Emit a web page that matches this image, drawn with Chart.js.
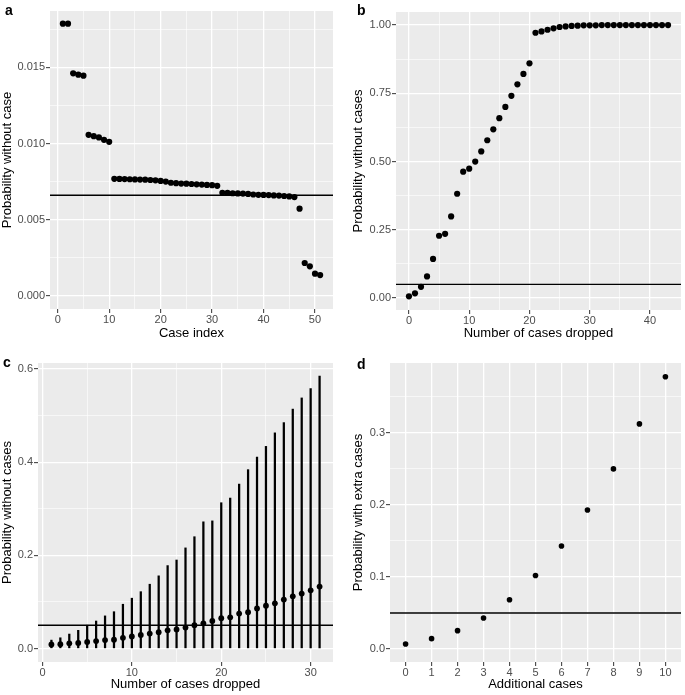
<!DOCTYPE html>
<html>
<head>
<meta charset="utf-8">
<script src="https://cdn.jsdelivr.net/npm/chart.js@4.4.1/dist/chart.umd.min.js"></script>
<style>
  body { margin: 0; background: #fff; width: 685px; height: 695px; position: relative; overflow: hidden; }
  canvas { position: absolute; }
</style>
</head>
<body>
<canvas id="panel-a" width="342" height="345" style="left:0;top:0;width:342px;height:345px"></canvas>
<canvas id="panel-b" width="343" height="345" style="left:342px;top:0;width:343px;height:345px"></canvas>
<canvas id="panel-c" width="342" height="350" style="left:0;top:345px;width:342px;height:350px"></canvas>
<canvas id="panel-d" width="343" height="350" style="left:342px;top:345px;width:343px;height:350px"></canvas>
<script>
// Panel a: probability without each single case
const caseIndex = [1, 2, 3, 4, 5, 6, 7, 8, 9, 10, 11, 12, 13, 14, 15, 16, 17, 18, 19, 20,
  21, 22, 23, 24, 25, 26, 27, 28, 29, 30, 31, 32, 33, 34, 35, 36, 37, 38, 39, 40,
  41, 42, 43, 44, 45, 46, 47, 48, 49, 50, 51];
const probWithoutCase = [
  0.01787, 0.01787, 0.01461, 0.01452, 0.01445, 0.01057, 0.01048, 0.01040, 0.01024, 0.01011,
  0.00768, 0.00767, 0.00766, 0.00765, 0.00764, 0.00763, 0.00762, 0.00760, 0.00758, 0.00754,
  0.00750, 0.00742, 0.00739, 0.00737, 0.00736, 0.00734, 0.00732, 0.00730, 0.00728, 0.00726,
  0.00722, 0.00676, 0.00675, 0.00673, 0.00672, 0.00671, 0.00669, 0.00665, 0.00663, 0.00662,
  0.00661, 0.00659, 0.00658, 0.00655, 0.00652, 0.00648, 0.00572, 0.00215, 0.00193, 0.00145,
  0.00136];
const thresholdA = 0.0066;

// Panel b: probability after dropping the strongest cases
const casesDroppedB = [0, 1, 2, 3, 4, 5, 6, 7, 8, 9, 10, 11, 12, 13, 14, 15, 16, 17, 18, 19,
  20, 21, 22, 23, 24, 25, 26, 27, 28, 29, 30, 31, 32, 33, 34, 35, 36, 37, 38, 39,
  40, 41, 42, 43];
const probWithoutCasesB = [
  0.006, 0.017, 0.041, 0.079, 0.143, 0.228, 0.235, 0.299, 0.382, 0.463,
  0.474, 0.500, 0.537, 0.578, 0.618, 0.659, 0.700, 0.741, 0.783, 0.821,
  0.860, 0.972, 0.977, 0.983, 0.988, 0.993, 0.995, 0.997, 0.998, 0.999,
  0.999, 0.999, 1.000, 1.000, 1.000, 1.000, 1.000, 1.000, 1.000, 1.000,
  1.000, 1.000, 1.000, 1.000];
const thresholdB = 0.05;

// Panel c: random drops, median with range
const casesDroppedC = [1, 2, 3, 4, 5, 6, 7, 8, 9, 10, 11, 12, 13, 14, 15, 16, 17, 18, 19, 20,
  21, 22, 23, 24, 25, 26, 27, 28, 29, 30, 31];
const probMedianC = [
  0.0086, 0.0093, 0.011, 0.012, 0.014, 0.016, 0.018, 0.019, 0.023, 0.026,
  0.029, 0.032, 0.035, 0.039, 0.041, 0.045, 0.050, 0.054, 0.059, 0.065,
  0.067, 0.075, 0.078, 0.086, 0.092, 0.097, 0.105, 0.112, 0.118, 0.125,
  0.133];
const probUpperC = [
  0.018, 0.023, 0.031, 0.039, 0.050, 0.059, 0.070, 0.079, 0.095, 0.108,
  0.122, 0.138, 0.156, 0.178, 0.190, 0.216, 0.240, 0.272, 0.274, 0.313,
  0.323, 0.353, 0.384, 0.411, 0.434, 0.463, 0.485, 0.514, 0.538, 0.558,
  0.585];
const probLowerC = [
  0, 0, 0, 0, 0, 0, 0, 0, 0, 0, 0, 0, 0, 0, 0, 0, 0, 0, 0, 0,
  0, 0, 0, 0, 0, 0, 0, 0, 0, 0, 0];
const thresholdC = 0.05;

// Panel d: probability with extra cases
const additionalCases = [0, 1, 2, 3, 4, 5, 6, 7, 8, 9, 10];
const probExtraCases = [0.0069, 0.0144, 0.0255, 0.043, 0.0685, 0.102, 0.143, 0.193, 0.250, 0.3125, 0.378];
const thresholdD = 0.05;

// tick positions (major labelled, minor only as thin grid lines)
const ticksAX = [0, 10, 20, 30, 40, 50], minorAX = [5, 15, 25, 35, 45];
const ticksAY = [0, 0.005, 0.01, 0.015], minorAY = [0.0025, 0.0075, 0.0125, 0.0175];
const ticksBX = [0, 10, 20, 30, 40], minorBX = [5, 15, 25, 35];
const ticksBY = [0, 0.25, 0.5, 0.75, 1], minorBY = [0.125, 0.375, 0.625, 0.875];
const ticksCX = [0, 10, 20, 30], minorCX = [5, 15, 25];
const ticksCY = [0, 0.2, 0.4, 0.6], minorCY = [0.1, 0.3, 0.5];
const ticksDX = [0, 1, 2, 3, 4, 5, 6, 7, 8, 9, 10];
const ticksDY = [0, 0.1, 0.2, 0.3], minorDY = [0.05, 0.15, 0.25, 0.35];

const FONT = '"Liberation Sans", Arial, Helvetica, sans-serif';
const PANEL_BG = '#EBEBEB';
const TICK_TEXT = '#4D4D4D';

const panelBackground = {
  id: 'panelBackground',
  beforeDraw(chart) {
    const { ctx, chartArea } = chart;
    ctx.save();
    ctx.fillStyle = PANEL_BG;
    ctx.fillRect(chartArea.left, chartArea.top, chartArea.width, chartArea.height);
    ctx.restore();
  }
};

const panelTag = {
  id: 'panelTag',
  afterDraw(chart, args, opts) {
    const ctx = chart.ctx;
    ctx.save();
    ctx.fillStyle = '#000';
    ctx.font = 'bold 14px ' + FONT;
    ctx.textBaseline = 'alphabetic';
    ctx.fillText(opts.text, opts.x, opts.y);
    ctx.restore();
  }
};

function buildAxis({ min, max, major, minor = [], format, title, thickness, horizontal, titlePad }) {
  const all = major.concat(minor).sort((a, b) => a - b);
  const isMajor = v => major.includes(v);
  return {
    type: 'linear',
    min: min,
    max: max,
    offset: false,
    border: { display: false },
    grid: {
      offset: false,
      color: '#FFFFFF',
      lineWidth: ctx => (ctx.tick && isMajor(ctx.tick.value)) ? 1.3 : 0.6,
      tickColor: ctx => (ctx.tick && isMajor(ctx.tick.value)) ? '#333333' : 'rgba(0,0,0,0)',
      tickLength: 4,
      tickWidth: 1
    },
    ticks: {
      autoSkip: false,
      maxRotation: 0,
      padding: horizontal ? 0 : 1,
      color: TICK_TEXT,
      font: { family: FONT, size: 11 },
      callback: v => isMajor(v) ? format(v) : ''
    },
    title: {
      display: true,
      text: title,
      color: '#000',
      font: { family: FONT, size: 13 },
      padding: horizontal ? { top: 0, bottom: titlePad } : { top: titlePad, bottom: 0 }
    },
    afterBuildTicks: scale => { scale.ticks = all.map(v => ({ value: v })); },
    afterFit: scale => {
      if (horizontal) scale.height = thickness;
      else scale.width = thickness;
    }
  };
}

function points(xs, ys) {
  return xs.map((x, i) => ({ x: x, y: ys[i] }));
}

function hline(value, xMin, xMax) {
  return {
    type: 'line',
    data: [{ x: xMin, y: value }, { x: xMax, y: value }],
    borderColor: '#000',
    borderWidth: 1.4,
    pointRadius: 0,
    order: 1
  };
}

function scatterSet(data, radius) {
  return {
    type: 'scatter',
    data: data,
    pointRadius: radius,
    pointBackgroundColor: '#000',
    pointBorderWidth: 0,
    order: 0
  };
}

function makeChart(id, { datasets, x, y, padding, tag }) {
  return new Chart(document.getElementById(id), {
    type: 'scatter',
    data: { datasets: datasets },
    options: {
      responsive: false,
      animation: false,
      events: [],
      layout: { padding: padding },
      scales: { x: x, y: y },
      plugins: {
        legend: { display: false },
        tooltip: { enabled: false },
        panelTag: tag
      }
    },
    plugins: [panelBackground, panelTag]
  });
}

const fmtInt = v => String(v);

// a
makeChart('panel-a', {
  datasets: [
    scatterSet(points(caseIndex, probWithoutCase), 3.1),
    hline(thresholdA, -1.5, 53.5)
  ],
  x: buildAxis({ min: -1.5, max: 53.5, major: ticksAX, minor: minorAX, format: fmtInt,
    title: 'Case index', thickness: 36, horizontal: true, titlePad: 4 }),
  y: buildAxis({ min: -0.00087, max: 0.0187, major: ticksAY, minor: minorAY, format: v => v.toFixed(3),
    title: 'Probability without case', thickness: 50, horizontal: false, titlePad: 0 }),
  padding: { left: 0, top: 11, right: 9, bottom: 0 },
  tag: { text: 'a', x: 5, y: 14.5 }
});

// b
makeChart('panel-b', {
  datasets: [
    scatterSet(points(casesDroppedB, probWithoutCasesB), 3.1),
    hline(thresholdB, -2.15, 45.15)
  ],
  x: buildAxis({ min: -2.15, max: 45.15, major: ticksBX, minor: minorBX, format: fmtInt,
    title: 'Number of cases dropped', thickness: 35, horizontal: true, titlePad: 4 }),
  y: buildAxis({ min: -0.044, max: 1.048, major: ticksBY, minor: minorBY, format: v => v.toFixed(2),
    title: 'Probability without cases', thickness: 54, horizontal: false, titlePad: 9 }),
  padding: { left: 0, top: 12, right: 0, bottom: 0 },
  tag: { text: 'b', x: 15, y: 15 }
});

// c
makeChart('panel-c', {
  datasets: [
    scatterSet(points(casesDroppedC, probMedianC), 2.9),
    {
      type: 'bar',
      data: casesDroppedC.map((x, i) => ({ x: x, y: [probLowerC[i], probUpperC[i]] })),
      backgroundColor: '#000',
      barThickness: 1.6,
      grouped: false,
      order: 2
    },
    hline(thresholdC, -0.5, 32.5)
  ],
  x: buildAxis({ min: -0.5, max: 32.5, major: ticksCX, minor: minorCX, format: fmtInt,
    title: 'Number of cases dropped', thickness: 33, horizontal: true, titlePad: 3 }),
  y: buildAxis({ min: -0.029, max: 0.613, major: ticksCY, minor: minorCY, format: v => v.toFixed(1),
    title: 'Probability without cases', thickness: 38, horizontal: false, titlePad: 0 }),
  padding: { left: 0, top: 18, right: 9, bottom: 0 },
  tag: { text: 'c', x: 3, y: 22 }
});

// d
makeChart('panel-d', {
  datasets: [
    scatterSet(points(additionalCases, probExtraCases), 2.8),
    hline(thresholdD, -0.6, 10.6)
  ],
  x: buildAxis({ min: -0.6, max: 10.6, major: ticksDX, format: fmtInt,
    title: 'Additional cases', thickness: 33, horizontal: true, titlePad: 3 }),
  y: buildAxis({ min: -0.018, max: 0.397, major: ticksDY, minor: minorDY, format: v => v.toFixed(1),
    title: 'Probability with extra cases', thickness: 48, horizontal: false, titlePad: 9 }),
  padding: { left: 0, top: 18, right: 0, bottom: 0 },
  tag: { text: 'd', x: 15, y: 24 }
});
</script>
</body>
</html>
